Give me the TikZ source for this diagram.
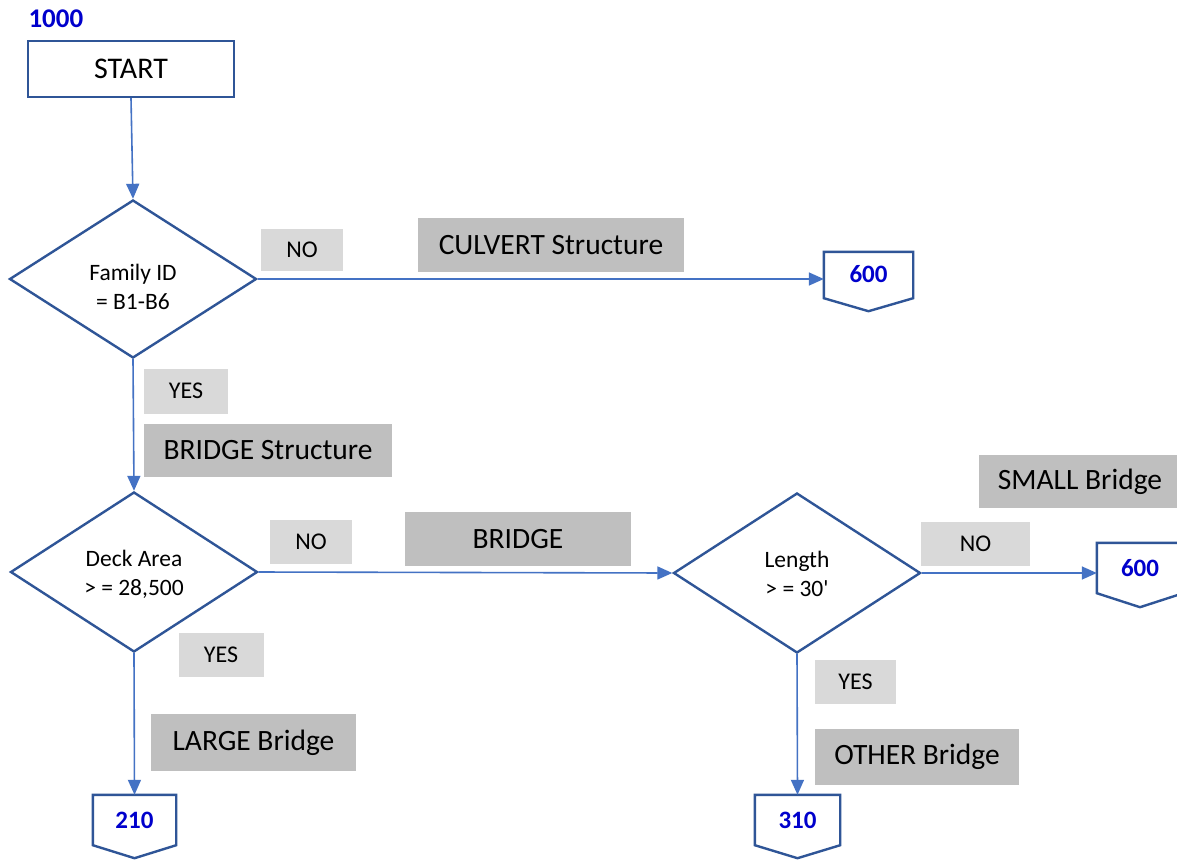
\documentclass[tikz,border=0pt]{standalone}
\usepackage{fontspec}
\setmainfont{Carlito}
\usetikzlibrary{shapes.geometric,arrows.meta}
\definecolor{edgeblue}{HTML}{2F5597}
\definecolor{linkblue}{HTML}{4472C4}
\definecolor{numblue}{HTML}{0000CC}
\definecolor{lightgray}{HTML}{D9D9D9}
\definecolor{darkgray}{HTML}{BFBFBF}
\begin{document}
\begin{tikzpicture}[x=1pt,y=-1pt,
  shapeline/.style={draw=edgeblue,line width=2.4pt},
  startbox/.style={shapeline,rectangle,minimum width=206pt,minimum height=56pt,inner sep=0pt,
    font=\fontsize{30}{32}\selectfont},
  decision/.style={shapeline,diamond,minimum width=247pt,minimum height=158pt,inner sep=0pt},
  decisiontext/.style={align=center,inner sep=0pt,font=\fontsize{23.5}{29}\selectfont},
  answer/.style={fill=lightgray,rectangle,inner sep=0pt,font=\fontsize{24}{26}\selectfont},
  tag/.style={fill=darkgray,rectangle,inner sep=0pt,font=\fontsize{29.5}{32}\selectfont},
  pageref/.style={rectangle,inner sep=0pt,text=numblue,font=\bfseries\fontsize{25}{26}\selectfont},
  link/.style={draw=linkblue,line width=1.6pt,-{Triangle[length=15pt,width=13pt]}}]
\useasboundingbox (0,0) rectangle (1177,860);
\clip (0,0) rectangle (1177,860);
\fill[white] (0,0) rectangle (1177,860);

% start block and its page number
\node[startbox] (start) at (131,69) {START};
\node[anchor=west,text=numblue,font=\bfseries\fontsize{27}{28}\selectfont] (num1000) at (25,19) {1000};

% decisions (outline and text set separately)
\node[decision] (famid) at (133,279) {};
\node[decision,minimum height=160pt] (deck) at (134,572) {};
\node[decision,minimum height=160pt] (len) at (797,573) {};
\node[decisiontext] (famidtext) at ([yshift=-8pt]famid.center) {Family ID\\= B1-B6};
\node[decisiontext] (decktext) at ([yshift=-2pt]deck.center) {Deck Area\\> = 28,500};
\node[decisiontext] (lentext) at ([yshift=-1pt]len.center) {Length\\> = 30\textquotesingle};

% off-page connectors (outline drawn below)
\node[pageref,minimum width=89pt,minimum height=46pt] (pg600a) at (868.5,275) {\raisebox{3pt}{600}};
\node[pageref,minimum width=86pt,minimum height=50pt] (pg600b) at (1140,568) {600};
\node[pageref,minimum width=83pt,minimum height=50pt] (pg210) at (134.5,820) {210};
\node[pageref,minimum width=85pt,minimum height=50pt] (pg310) at (797.5,820) {310};
\foreach \n/\d in {pg600a/13,pg600b/14,pg210/13,pg310/13}
  \draw[shapeline,line join=miter] (\n.north west) -- (\n.south west)
    -- ([yshift=-\d pt]\n.south) -- (\n.south east) -- (\n.north east) -- cycle;

% answer labels
\node[answer,minimum width=82pt,minimum height=42pt] (no1) at (302,250) {NO};
\node[answer,minimum width=84pt,minimum height=45pt] (yes1) at (186,391) {YES};
\node[answer,minimum width=82pt,minimum height=44pt] (no2) at (311,542) {NO};
\node[answer,minimum width=85pt,minimum height=44pt] (yes2) at (221,655) {YES};
\node[answer,minimum width=109pt,minimum height=44pt] (no3) at (975.5,544) {NO};
\node[answer,minimum width=81pt,minimum height=44pt] (yes3) at (855.5,682) {YES};

% structure type labels
\node[tag,minimum width=266pt,minimum height=54pt] (culvert) at (551,245) {CULVERT Structure};
\node[tag,minimum width=248pt,minimum height=53pt] (bridgest) at (268,450.5) {BRIDGE Structure};
\node[tag,minimum width=226pt,minimum height=54pt] (bridge) at (518,539) {BRIDGE};
\node[tag,minimum width=202pt,minimum height=53pt] (small) at (1080,481.5) {SMALL Bridge};
\node[tag,minimum width=205pt,minimum height=57pt] (large) at (253.5,742.5) {LARGE Bridge};
\node[tag,minimum width=204pt,minimum height=56pt] (other) at (917,757) {OTHER Bridge};

% flow
\draw[link] (start.south) -- (famid.north);
\draw[link] (famid.east) -- (famid.east -| pg600a.west);
\draw[link] (famid.south) -- (deck.north);
\draw[link] (deck.east) -- (len.west);
\draw[link] (len.east) -- (len.east -| pg600b.west);
\draw[link] (deck.south) -- (pg210.north);
\draw[link] (len.south) -- (pg310.north);
\end{tikzpicture}
\end{document}
